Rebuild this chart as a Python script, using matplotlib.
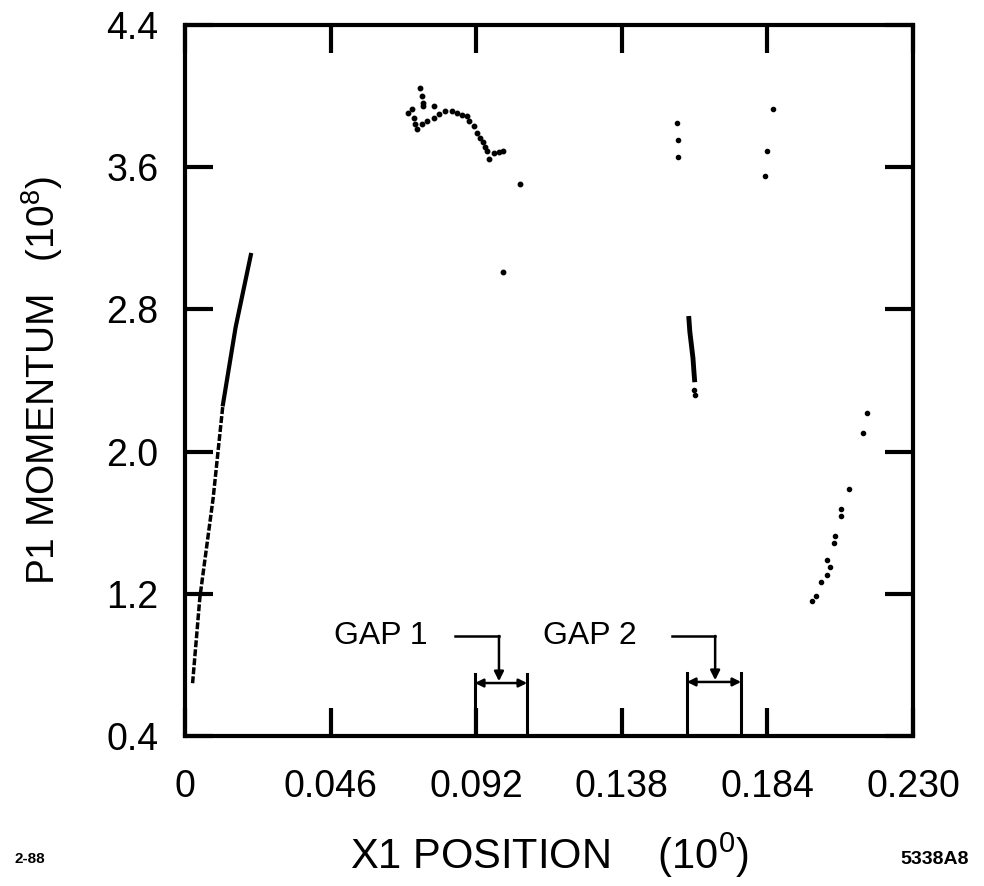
import matplotlib
matplotlib.use("Agg")
import matplotlib.pyplot as plt

plt.rcParams['font.family'] = ['Liberation Sans', 'DejaVu Sans']
plt.rcParams['mathtext.fontset'] = 'custom'
plt.rcParams['mathtext.rm'] = 'Liberation Sans'

# axis ticks
x_ticks = [0, 0.046, 0.092, 0.138, 0.184, 0.230]
x_labels = ["0", "0.046", "0.092", "0.138", "0.184", "0.230"]
y_ticks = [0.4, 1.2, 2.0, 2.8, 3.6, 4.4]
y_labels = ["0.4", "1.2", "2.0", "2.8", "3.6", "4.4"]

# left trajectory line (lower part dotted, upper part solid)
line_lo_x = [0.0024, 0.0047, 0.0089, 0.0120]
line_lo_y = [0.697, 1.179, 1.739, 2.266]
line_hi_x = [0.0120, 0.0160, 0.0208]
line_hi_y = [2.266, 2.700, 3.106]

# top cluster of points
top_x = [0.0743, 0.0749, 0.0752, 0.0751, 0.0717, 0.0706, 0.0722, 0.0728, 0.0733,
         0.0749, 0.0765, 0.0786, 0.0786, 0.0801, 0.0823, 0.0844, 0.0860, 0.0875,
         0.0891, 0.0896, 0.0912, 0.0923, 0.0933, 0.0942, 0.0949, 0.0954, 0.0960,
         0.0975, 0.0991, 0.1005, 0.1058, 0.1006]
top_y = [4.047, 4.001, 3.963, 3.945, 3.926, 3.907, 3.879, 3.842, 3.814,
         3.842, 3.860, 3.879, 3.944, 3.897, 3.916, 3.916, 3.903, 3.894,
         3.888, 3.860, 3.832, 3.795, 3.767, 3.739, 3.711, 3.692, 3.646,
         3.679, 3.683, 3.692, 3.505, 3.011]

# isolated points upper right
ur_x = [0.1555, 0.1557, 0.1557, 0.1859, 0.1840, 0.1833]
ur_y = [3.851, 3.754, 3.660, 3.926, 3.692, 3.552]

# middle short segment
mid_x = [0.1592, 0.1595, 0.1600, 0.1605, 0.1608, 0.1610]
mid_y = [2.749, 2.675, 2.600, 2.525, 2.450, 2.404]
mid_pts_x = [0.1608, 0.1610]
mid_pts_y = [2.348, 2.320]

# lower right points
lr_x = [0.2154, 0.2141, 0.2098, 0.2072, 0.2072, 0.2053, 0.2049, 0.2027, 0.2037,
        0.2027, 0.2009, 0.1993, 0.1980]
lr_y = [2.217, 2.105, 1.788, 1.676, 1.638, 1.526, 1.488, 1.390, 1.352,
        1.308, 1.264, 1.190, 1.158]

# gaps: left, right, top of side walls, arrow level
gap_names = ["GAP 1", "GAP 2"]
gap_left = [0.0916, 0.1586]
gap_right = [0.1081, 0.1757]
gap_top = [0.749, 0.755]
gap_arrow_y = [0.698, 0.704]
gap_label_x = [0.0768, 0.1428]
gap_lead_x = [0.0853, 0.1539]
gap_point_x = [0.0992, 0.1675]
gap_label_y = 0.963

fig = plt.figure(figsize=(9.84, 8.86), dpi=100)
ax = fig.add_axes([0.188, 0.1693, 0.7398, 0.8025])

ax.plot(line_lo_x, line_lo_y, color='black', lw=2.5, ls=(0, (2, 0.6)))
ax.plot(line_hi_x, line_hi_y, color='black', lw=3)
ax.plot(top_x, top_y, 'o', color='black', ms=3.2)
ax.plot(ur_x, ur_y, 'o', color='black', ms=3)
ax.plot(mid_x, mid_y, color='black', lw=3.5)
ax.plot(mid_pts_x, mid_pts_y, 'o', color='black', ms=3)
ax.plot(lr_x, lr_y, 'o', color='black', ms=3)

for i in range(2):
    ax.plot([gap_left[i], gap_left[i]], [0.4, gap_top[i]], color='black', lw=2.2)
    ax.plot([gap_right[i], gap_right[i]], [0.4, gap_top[i]], color='black', lw=2.2)
    ax.annotate('', xy=(gap_left[i], gap_arrow_y[i]), xytext=(gap_right[i], gap_arrow_y[i]),
                arrowprops=dict(arrowstyle='<|-|>', color='black', lw=1.8,
                                mutation_scale=12, shrinkA=0, shrinkB=0))
    ax.plot([gap_lead_x[i], gap_point_x[i]], [gap_label_y, gap_label_y], color='black', lw=1.8)
    ax.annotate('', xy=(gap_point_x[i], gap_arrow_y[i] + 0.01),
                xytext=(gap_point_x[i], gap_label_y),
                arrowprops=dict(arrowstyle='-|>', color='black', lw=1.8,
                                mutation_scale=14, shrinkA=0, shrinkB=0))
    ax.text(gap_label_x[i], gap_label_y, gap_names[i], fontsize=23,
            ha='right', va='center')

ax.set_xlim(0, 0.230)
ax.set_ylim(0.4, 4.4)
ax.set_xticks(x_ticks)
ax.set_xticklabels(x_labels)
ax.set_yticks(y_ticks)
ax.set_yticklabels(y_labels)
ax.tick_params(direction='in', length=20, width=3, labelsize=27,
               top=True, right=True)
ax.tick_params(axis='x', pad=24)
ax.tick_params(axis='y', pad=19)
for s in ax.spines.values():
    s.set_linewidth(3)

ax.set_xlabel("X1 POSITION    (10$^{0}$)", fontsize=30, labelpad=18)
ax.set_ylabel("P1 MOMENTUM   (10$^{8}$)", fontsize=28, labelpad=30)

fig.text(0.03, 0.03, "2-88", fontsize=11, fontweight='bold', ha='center', va='center')
fig.text(0.950, 0.03, "5338A8", fontsize=14, fontweight='bold', ha='center', va='center')

fig.savefig("out.png", dpi=100)
